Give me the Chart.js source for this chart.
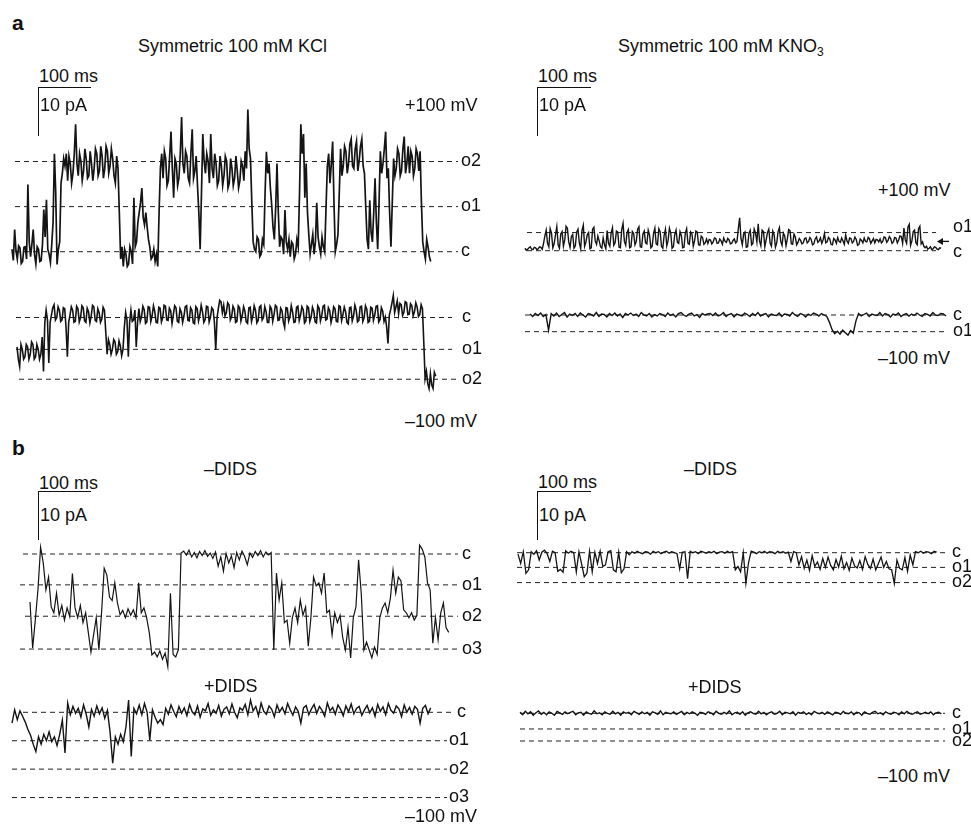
<!DOCTYPE html>
<html><head><meta charset="utf-8">
<script src="https://cdn.jsdelivr.net/npm/chart.js@4"></script>
<style>
body{margin:0;background:#fff;}
#fig{position:relative;width:971px;height:829px;overflow:hidden;background:#fff;font-family:"Liberation Sans",Arial,sans-serif;color:#111;}
.t{position:absolute;font-size:18px;line-height:18px;white-space:nowrap;z-index:2;}
.t sub{font-size:12px;vertical-align:-4px;line-height:0;}
.p{position:absolute;font-size:21px;line-height:21px;font-weight:bold;z-index:2;}
.hb{position:absolute;height:0;border-top:1.5px solid #111;}
.vb{position:absolute;width:0;border-left:1.5px solid #111;}
canvas{position:absolute;}
</style></head>
<body><div id="fig">
<div class="p" style="left:12px;top:12px">a</div>
<div class="t" style="left:138px;top:37px">Symmetric 100 mM KCl</div>
<div class="t" style="left:618px;top:37px">Symmetric 100 mM KNO<sub>3</sub></div>
<div class="t" style="left:39px;top:67px">100 ms</div>
<div class="t" style="left:40px;top:96px">10 pA</div>
<div class="hb" style="left:38px;top:87px;width:53px"></div>
<div class="vb" style="left:38px;top:87px;height:49px"></div>
<div class="t" style="left:538px;top:67px">100 ms</div>
<div class="t" style="left:539px;top:96px">10 pA</div>
<div class="hb" style="left:537px;top:87px;width:54px"></div>
<div class="vb" style="left:537px;top:87px;height:49px"></div>
<div class="t" style="left:405px;top:96px">+100 mV</div>
<div class="t" style="left:878px;top:181px">+100 mV</div>
<div class="t" style="left:405px;top:412px">–100 mV</div>
<div class="t" style="left:878px;top:349px">–100 mV</div>
<div class="p" style="left:12px;top:437px">b</div>
<div class="t" style="left:204px;top:460px">–DIDS</div>
<div class="t" style="left:684px;top:460px">–DIDS</div>
<div class="t" style="left:39px;top:474px">100 ms</div>
<div class="t" style="left:40px;top:506px">10 pA</div>
<div class="hb" style="left:38px;top:491px;width:53px"></div>
<div class="vb" style="left:38px;top:491px;height:49px"></div>
<div class="t" style="left:538px;top:473px">100 ms</div>
<div class="t" style="left:539px;top:506px">10 pA</div>
<div class="hb" style="left:537px;top:491px;width:54px"></div>
<div class="vb" style="left:537px;top:491px;height:49px"></div>
<div class="t" style="left:204px;top:677px">+DIDS</div>
<div class="t" style="left:688px;top:678px">+DIDS</div>
<div class="t" style="left:405px;top:807px">–100 mV</div>
<div class="t" style="left:878px;top:767px">–100 mV</div>
</div>
<script>
// ---- data: currents in pA, sampled at a fixed interval (ms) per trace ----
const dtKclPos = 2.5, dtKclNeg = 2.5, dtKno3Pos = 2.5, dtOther = 5;
const kclPos = [0.5,-1.8,4.5,0.2,-1.5,1.2,0.8,-2.4,-2,0.9,1,-1.5,13.7,2,-1,1.5,4.5,-0.5,-2.5,1,
0.5,-2,-1.8,1.5,8.6,3,10.6,0.5,-0.5,-2.2,1.5,6,20,12,-2.6,0.5,2,14,16,19,
17.5,20,14.5,19.5,18,14,16,20,26,18,15.5,20,18.5,14.5,16.5,21,19,15,15.5,20.5,
18,14.5,17,21,20,15.5,16.5,21.5,19.5,15,17,21.5,20.5,16,17.5,21,19,15.5,14,19.5,
17,8,-1.5,1,-3,0.5,-0.5,-3,-2.5,1,0,-2.5,11,1,2,6,8,10,13,7,
5.5,8,5,2.5,1,-1.5,-1,0.5,-2,-0.5,-3,8,17,20,15,20.5,19,13.5,14.5,19.5,
24.5,17,11,19,18,13.5,15,20,27.5,18,16,20.5,19.5,15,14,20,25,15,16.5,19.5,
13.5,8,0.5,12,24,18.5,16,20,18.5,14,24,17,15,20,18,13.5,14.5,19.5,17.5,13.5,
15.5,19.5,18.5,13,14,19,17,13.5,15,19.5,16.5,13,14.5,18.5,17.5,14.5,20.5,17,29,21,
19,10,2,0.5,0,3,2.5,-1,-0.5,2.5,1.5,12,20.4,16,18,13,9.5,5,2.5,9,
18,8,1,3,2.5,-0.5,8.5,2,0.5,2.5,-1,2,1.5,-1.5,-0.5,2.5,1,12,26,20,
24,11,18,8,3.5,-0.5,1.5,3.5,-0.5,2,10,3,1,-0.5,3,1,0,9,17.5,20,
14,18,22.5,10,0,1.5,3.5,12,21,15.5,17.5,21.5,20.5,16,18,22,23,17.5,17,21,
22.5,16.5,18.5,21.5,23,17.5,16,9,2.5,0.5,10.5,4,2,8,15,6,0.5,10,20.5,16,
18,21,24.5,15,17,8,1,10,19,15.5,17,21,20,15.5,16.5,21,23.5,16,18,21.5,
16,20.5,19.5,15.5,17,21,20,16.5,20.5,10,2,0,-1.5,2.5,1,-1,-2];
const kclNeg = [-6,-8.5,-10,-5.5,-6.5,-8.5,-8,-5.5,-6,-8.5,-7.5,-5,-5.5,-8.5,-8,-5.5,-6.5,-8.5,-7.5,-4,
-11,-1,1.5,-0.5,-9.3,-1,0.5,2,2.6,-0.5,0,2.2,1.5,-0.8,-0.5,2,1.8,-2,-8,-1,
0.5,2.2,1.5,-1,-0.8,2.3,1.8,-0.9,0,2.4,2,-0.7,-1,1.9,1.2,-1.1,0.3,2.5,2.2,-0.6,
-0.8,1.8,1,-1,-0.3,2.1,1.5,-3,-7.5,-4.5,-5.5,-7.5,-6.5,-4.5,-5,-7.5,-7,-4.8,-5.8,-7.8,
-6.5,-2,1,-0.5,-8,-1,1.5,-0.8,-0.5,1.5,-6,-1,1.8,-0.8,0.2,2.3,1.6,-1.2,-0.9,2.2,
2.1,-0.8,0.4,2.4,1.2,-1,-1.1,2.1,1.9,-0.9,0,2.5,2.3,-0.5,-0.6,1.9,1.4,-1.2,0.6,2.4,
2,-0.8,-1,1.8,1.1,-1,0.3,2.2,2.4,-0.6,-0.7,2,1.5,-1.1,-1.3,2.2,1.8,-0.7,0.5,2.5,
1.2,-1,-0.4,2.3,2.2,-0.9,0.1,2,1.6,-1,-6.6,0,1.9,3.5,3.2,1,2.5,0.3,1,3,
2.6,-0.5,0.2,2.3,1.7,-1,-0.8,2.4,2,-0.7,0.4,2.2,1.3,-0.9,-1.2,2,2.1,-0.8,0.3,2.4,
1.5,-1.1,-0.6,2.1,2.4,-0.5,0,2.2,1.2,-1,-1,2.3,1.8,-0.8,0.6,2.5,2.2,-0.6,-0.5,1.9,
1.4,-0.9,-2,2,1.9,-0.7,0.2,2.4,1.1,-1,-0.9,2.1,2.3,-0.6,0.5,2.2,1.6,-1.1,-0.7,2.3,
2,-0.8,0.1,2.1,1.3,-0.9,-1.1,2.4,1.9,-0.7,0.4,2.3,2.5,-0.5,-0.3,2,1.4,-1,0.2,2.2,
1.8,-0.8,-0.9,2.4,2.2,-0.6,0.6,2.1,1.2,-1,-1.3,2,2.1,-0.7,0.3,2.5,1.5,-0.9,-0.6,2.2,
2.3,-0.8,0,2.4,1.7,-1,-0.8,2.1,1.9,-0.6,0.5,2.3,2.4,-0.9,-0.4,2,1.3,-0.8,0.1,-2,
-5.3,0.5,1.6,3,4.5,1,2.2,3.4,0.8,2.9,2.6,0.4,1.1,3.2,3,0.6,0.7,2.8,2.4,0.3,
1.2,3,2.1,0.2,0.6,2.6,1.8,-5,-12.5,-11,-13.5,-14.5,-11.5,-13.8,-14.5,-11.2,-12];
const kno3Pos = [0.5,0.1,0.3,0.6,0.8,0.3,0.2,0.7,0.6,0.2,0.4,0.8,0.7,0.3,1.5,3.0,
4.2,1.5,0.8,4.5,3.6,0.6,1.4,3.2,4.9,1.2,0.5,3.4,3.9,0.9,2.2,5.0,4.6,1.8,0.7,2.9,
3.3,0.5,1.0,3.8,4.4,1.6,0.4,4.1,5.2,0.9,1.8,3.3,3.7,0.4,0.6,4.4,4.8,2.0,1.3,3.0,
2.0,0.8,0.5,2.6,1.2,0.4,4.1,1.5,0.9,3.6,4.7,1.1,1.6,4.0,3.8,0.7,0.6,4.3,5.6,1.9,
1.1,3.7,4.3,0.6,0.8,3.9,3.5,1.2,1.9,4.4,4.9,0.8,0.7,3.4,4.0,1.6,1.4,4.2,3.2,0.6,
0.9,3.5,4.6,1.4,1.2,4.5,3.9,0.9,0.5,3.1,4.4,1.0,2.1,4.6,3.6,0.5,0.8,3.3,4.2,1.7,
1.5,3.9,3.1,0.6,0.7,3.6,4.5,1.5,1.3,3.8,3.4,0.9,2.0,4.0,3.8,1.2,1.1,3.0,2.7,1.3,1.6,2.4,
1.5,2.3,2.2,1.4,1.8,2.6,2.5,1.5,1.6,2.4,2.0,1.3,2.6,1.9,1.7,2.5,2.2,1.4,1.5,2.1,2.4,1.6,1.9,4.5,
6.7,2.5,
1.2,3.4,3.8,0.7,0.8,3.6,4.2,1.2,1.5,4.4,3.6,1.8,5.5,2.0,1.0,4.2,3.9,0.8,2.2,3.7,4.4,1.5,
0.9,4.0,3.3,0.7,1.6,3.9,4.7,1.9,1.1,3.6,3.0,1.0,2.4,4.3,4.1,1.4,1.3,3.4,2.8,1.2,1.7,2.5,
2.1,1.4,1.6,2.5,2.6,1.6,1.9,2.7,2.3,1.2,1.4,2.4,2.8,1.7,2.0,2.6,1.5,2.2,3.5,1.6,
1.8,2.7,2.4,1.3,1.2,2.5,2.2,1.5,2.7,1.9,1.7,2.6,2.0,1.3,3.2,2.0,1.5,2.6,2.5,1.6,
1.9,2.8,2.3,1.1,1.3,2.4,2.1,1.6,2.6,1.9,1.8,2.7,2.4,1.5,2.0,2.5,1.6,2.3,2.2,1.8,
2.4,1.6,1.9,2.8,2.7,1.7,2.1,2.9,2.5,1.5,1.8,2.7,2.6,1.6,2.2,3.0,2.9,1.5,
4.6,2.2,1.5,4.8,5.4,1.1,2.0,3.9,4.2,1.6,1.2,4.5,5.0,1.4,1.8,0.9,
0.6,0.9,0.3,0.5,0.8,0.2,0.4,0.8,0.7,0.3,0.2,0.6,0.5];
const kno3Neg = [0.2,-0.3,0.3,-0.1,0.4,-0.3,0.1,
-3.1,
0.3,-0.2,0.4,-0.3,0.1,0.5,-0.4,0.2,-0.1,0.3,
-0.3,0.4,0,-0.4,0.3,0.1,-0.2,0.5,-0.3,0.2,
0.1,-0.4,0.3,-0.1,0.4,-0.2,0.2,-0.5,0.3,0,
0.4,-0.1,0.2,-0.3,0.5,0,-0.2,0.3,-0.4,0.1,
-0.2,0.3,0.1,-0.3,0.4,-0.1,0.2,-0.4,0.3,0.5,
0,-0.3,0.2,0.4,-0.2,0.1,-0.5,0.3,0,0.2,
0.3,-0.1,0.4,-0.2,0,0.5,-0.3,0.1,0.3,-0.4,
0.2,0,-0.2,0.4,0.1,-0.3,0.3,-0.1,0.5,-0.2,
0.1,0.3,-0.4,0.2,0,-0.1,0.4,-0.3,0.2,0.1,
-0.2,0.5,0,-0.3,0.3,0.1,-0.4,0.2,-0.1,0.4,
0.2,-0.2,0.3,0,-0.3,
-1.5,-3.0,-3.8,-3.3,-3.9,-3.1,-3.6,-4.1,-3.2,-3.7,-1.2,
0.3,-0.2,0.1,0.4,-0.3,0.2,0,-0.1,0.5,-0.2,
0.3,0.1,-0.4,0.2,0,0.4,-0.3,0.1,0.3,-0.2,
0.2,-0.1,0.4,0,-0.3,0.3,0.1,-0.2,0.5,0,
-0.1,0.3,0.2,-0.2];
const didsMinusKcl = [-9.8,-19.2,-13.5,-7.3,1.4,-1.8,-7.3,-4.7,-10.8,-12,
-8,-12.5,-10.5,-13.5,-11,-12.8,-4,-11,-13,-10.5,
-14,-12,-16,-20,-16.5,-13,-19.6,-12,-2.9,-4.3,
-8.8,-9.5,-5.9,-10,-12.4,-11.5,-13,-11.2,-12.5,-11.4,
-13,-5.9,-12,-11,-13,-16,-20.6,-20,-21,-19.8,
-21.5,-20.2,-23,-8,-20.5,-21,-19.5,0.2,
0.6,-0.2,0.8,-0.6,0.3,-0.8,0.5,-0.3,0.7,-0.5,
0.2,-0.9,0.4,-2.5,-0.6,-3.5,0.1,-1.8,-0.4,-2.8,
0.3,-1.2,0.6,-0.5,-2.2,0.2,-0.7,0.5,-0.3,0.7,
-0.6,0.4,-0.2,0.3,
-19.6,-3.9,-9.4,-5.9,-14,-13.5,-18.2,-13,-11,-14,
-9.4,-12.5,-10.8,-18.8,-13,-4.7,-6.5,-5.9,-8,-3.9,
-12,-11.5,-16.5,-12,-14,-12.5,-17,-19.6,-15,-21.2,
-13,-10.8,-1.2,-8,-19.6,-18,-19.6,-21.2,-19,-20.5,
-13,-11,-10,-12,-9,-3.3,-8,-4.7,-5.5,-11.4,
-12,-13,-12,-13.5,-12.5,1.8,1,-0.6,-5.9,-7.3,
-18.2,-13,-17.5,-12,-10,-15,-16];
const didsPlusKcl = [-2.2,0.5,-1.5,0.3,-0.8,-2,-3.5,-4.7,-6.5,-8,
-5,-6.5,-4.5,-5.8,-4,-6,-5,-6.8,-4.5,-1.6,
-8.3,1.9,
-0.5,1.2,-0.2,0.8,-1,1.5,-0.4,-3,0.6,-0.8,1.3,-0.3,0.9,-1.2,0.4,
-4,-10.4,-5,-6.5,-4.5,-6,-3,2.5,-9,0.8,-0.3,1.5,-0.5,1.8,0,-5.7,0.5,-1,-2.2,-1.5,-2.5,
0.8,-0.4,1.5,0.2,-0.9,1.2,-0.2,0.9,-0.7,1.6,
0.1,-0.5,1.3,-1,0.7,0.3,1.8,-0.6,0.5,-0.2,
1.4,-0.8,0.6,1.1,-0.3,1.7,0,-1.1,0.9,0.4,
1.6,-0.5,2.5,0.3,1.2,-0.7,1.9,0.2,-0.4,1.3,
0.6,-0.9,1.5,0.1,1,-0.3,1.8,0.5,-0.6,1.1,
0.2,-2.2,0.9,1.4,-0.5,0.7,1.6,-0.2,1.2,0.4,
-0.8,1.9,0.3,1,-0.4,1.5,0.6,-0.7,1.3,0.1,
1.7,-0.3,0.8,1.2,-0.6,0.5,1.4,-0.1,0.9,-0.8,
1.6,0.2,1.1,-0.5,1.8,0.4,-0.2,1.3,0.7,-0.9,
1.5,0,1,-0.4,1.2,0.6,-2.2,0.8,1.4,-0.3,
0.9];
const didsMinusKno3 = [-0.3,-2.2,0.2,-4.2,-3.5,
0.2,-0.3,0.4,-1.5,0.1,0.5,-0.2,-1.8,0.3,0,
-3.8,-3.4,-4,
0.4,-0.1,0.3,0,
-3.9,0.2,-2.3,-4.9,-4.2,0.3,-3.9,0.1,-2.2,
0.3,-2.8,-2.5,0.2,0.4,-3.5,-3.9,0.1,-4.1,-3.3,0.2,-0.4,
0.2,-0.1,0.3,0,-0.2,0.2,0.1,-0.3,0.3,0,0.2,-0.2,0.1,0.3,-0.1,0.2,0,-0.2,
-3.3,0.1,0.2,-5.3,0.3,
0,0.2,-0.2,0.3,0.1,-0.1,0.2,0,0.3,-0.2,0.1,0.2,-0.1,0.3,0,0.2,
-3.5,-2.8,-3.9,0,-6.2,-2,
0.3,0.1,-0.2,0.2,0,0.3,-0.1,0.2,0.1,-0.2,0.3,0,0.2,-0.1,0.1,-1.8,0.2,0,
-2.5,-0.8,-3.2,-1.5,-3.6,-0.6,-2.8,-1.9,-3.4,-1.2,-3,-0.9,-2.6,-3.5,-1.4,-2.9,-0.7,-3.3,-2,-3.6,
-1.1,-2.7,-3.1,-1.6,-3.4,-0.8,-2.4,-3.2,-1.3,-3.5,-2.2,-0.9,-3,-1.8,-3.3,
-3.5,-6.3,-1.5,-3.2,
-3.5,-1,-3.8,-0.5,-2.5,
0.2,0,0.3,-0.1,0.2,0.1,-0.2,0.3,0.1];
const didsPlusKno3 = [0.2,-0.3,0.4,-0.1,0.3,-0.4,0.1,0.5,-0.2,0.2,
-0.3,0.3,0,-0.4,0.4,0.1,-0.2,0.3,-0.1,0.2,
0.4,-0.3,0.1,0.2,-0.4,0.3,0,-0.2,0.5,-0.1,
0.1,-0.3,0.3,0,-0.2,0.4,-0.1,0.2,-0.4,0.3,
0,0.2,-0.3,0.4,0.1,-0.2,0.3,-0.1,0.2,-0.4,
0.3,0.1,-0.2,0.5,-0.3,0.2,0,-0.1,0.3,-0.2,
0.1,0.4,-0.3,0.2,-0.1,0.3,0,-0.4,0.2,0.1,
-0.2,0.3,0.1,-0.3,0.4,0,-0.2,0.2,-0.1,0.5,
-0.3,0.1,0.2,-0.2,0.3,-0.4,0.1,0.3,0,-0.2,
0.4,-0.1,0.2,-0.3,0.1,0.3,-0.2,0,0.4,-0.3,
0.2,0.1,-0.1,0.3,-0.4,0.2,0,0.3,-0.2,0.1,
-0.3,0.4,0.1,-0.1,0.2,-0.2,0.3,0,-0.3,0.2,
0.1,-0.2,0.4,0,-0.1,0.3,-0.3,0.2,0.1,-0.4,
0.3,0,-0.2,0.2,0.4,-0.1,0.1,-0.3,0.3,0,
-0.2,0.2,0.1,-0.3,0.3,-0.1,0.4,0,-0.2,0.1,
0.3,-0.2,0,0.2,-0.1,0.3,-0.3,0.1,0.2,-0.1];

// current levels (pA) and their names
const lvKclPos = [0, 9.2, 18.4], nmKclPos = ['c','o1','o2'];
const lvKclNeg = [0, -6.5, -12.6], nmKclNeg = ['c','o1','o2'];
const lvKno3Pos = [0, 3.7], nmKno3Pos = ['c','o1'];
const lvKno3Neg = [0, -3.4], nmKno3Neg = ['c','o1'];
const lvDidsMinusKcl = [0, -6.3, -12.7, -19.4], nmDidsMinusKcl = ['c','o1','o2','o3'];
const lvDidsPlusKcl = [0, -5.8, -11.6, -17.4], nmDidsPlusKcl = ['c','o1','o2','o3'];
const lvDidsMinusKno3 = [0, -3.0, -6.1], nmDidsMinusKno3 = ['c','o1','o2'];
const lvDidsPlusKno3 = [0, -3.2, -5.65], nmDidsPlusKno3 = ['c','o1','o2'];

// ---- layout ----
const PX_PER_MS = 0.53, PX_PER_PA = 4.9;
const fig = document.getElementById('fig');
const FONT = '18px "Liberation Sans", Arial, sans-serif';

const levelLabels = {
  id: 'levelLabels',
  afterDatasetsDraw(chart, args, o) {
    const ctx = chart.ctx, ys = chart.scales.y;
    ctx.save();
    ctx.font = FONT; ctx.fillStyle = '#111'; ctx.textBaseline = 'alphabetic';
    o.levels.forEach((lv, k) => {
      const y = ys.getPixelForValue(lv) + 4.7 + (o.dy ? o.dy[k] : 0);
      ctx.fillText(o.names[k], o.xs[k] - o.left, y);
    });
    if (o.arrow) {
      const y = ys.getPixelForValue(o.arrow.level);
      const x1 = o.arrow.from - o.left, x2 = o.arrow.to - o.left;
      ctx.strokeStyle = '#111'; ctx.lineWidth = 1.3;
      ctx.beginPath(); ctx.moveTo(x1, y); ctx.lineTo(x2 + 3, y); ctx.stroke();
      ctx.beginPath(); ctx.moveTo(x2, y); ctx.lineTo(x2 + 6, y - 3.5); ctx.lineTo(x2 + 6, y + 3.5); ctx.closePath(); ctx.fill();
    }
    ctx.restore();
  }
};

function makeTrace(values, dt, levels, names, L) {
  const cv = document.createElement('canvas');
  cv.width = L.width; cv.height = L.height;
  cv.style.left = L.left + 'px'; cv.style.top = L.top + 'px';
  cv.style.width = L.width + 'px'; cv.style.height = L.height + 'px';
  fig.appendChild(cv);
  const toMs = px => (px - L.x0) / PX_PER_MS;
  const xmin = toMs(L.left), xmax = toMs(L.left + L.width);
  const ymax = (L.yc - L.top) / PX_PER_PA, ymin = -(L.top + L.height - L.yc) / PX_PER_PA;
  const arr = (v, k) => Array.isArray(v) ? v[k] : v;
  const trace = { data: values.map((v, i) => ({ x: i * dt, y: v })), borderColor: '#141414', borderWidth: L.lw, pointRadius: 0, tension: 0, fill: false };
  const dashed = levels.map((lv, k) => ({
    data: [{ x: toMs(arr(L.dashFrom, k)), y: lv }, { x: toMs(arr(L.dashTo, k)), y: lv }],
    borderColor: '#222', borderWidth: 1, borderDash: [5, 4], pointRadius: 0, fill: false
  }));
  new Chart(cv, {
    type: 'line',
    data: { datasets: [trace, ...dashed] },
    options: {
      responsive: false, maintainAspectRatio: false, animation: false, devicePixelRatio: 1, events: [],
      layout: { padding: 0 },
      plugins: { legend: { display: false }, tooltip: { enabled: false },
        levelLabels: { levels, names, xs: levels.map((_, k) => arr(L.labelX, k)), dy: L.dy, left: L.left, arrow: L.arrow } },
      scales: {
        x: { type: 'linear', display: false, min: xmin, max: xmax },
        y: { type: 'linear', display: false, min: ymin, max: ymax }
      }
    },
    plugins: [levelLabels]
  });
}

makeTrace(kclPos, dtKclPos, lvKclPos, nmKclPos, { left: 0, top: 100, width: 485, height: 180, x0: 12, yc: 251.7, lw: 1.7, dashFrom: 15, dashTo: 458, labelX: 461 });
makeTrace(kclNeg, dtKclNeg, lvKclNeg, nmKclNeg, { left: 0, top: 285, width: 485, height: 115, x0: 17, yc: 317.5, lw: 1.6, dashFrom: [16, 16, 19], dashTo: [452, 452, 458], labelX: 462 });
makeTrace(kno3Pos, dtKno3Pos, lvKno3Pos, nmKno3Pos, { left: 485, top: 205, width: 486, height: 60, x0: 525, yc: 250.7, lw: 1.4, dashFrom: 527, dashTo: 936, labelX: 953, dy: [2, -5], arrow: { level: 1.9, from: 949, to: 937 } });
makeTrace(kno3Neg, dtOther, lvKno3Neg, nmKno3Neg, { left: 485, top: 295, width: 486, height: 50, x0: 530, yc: 315, lw: 1.4, dashFrom: 525, dashTo: [948, 946], labelX: 953 });
makeTrace(didsMinusKcl, dtOther, lvDidsMinusKcl, nmDidsMinusKcl, { left: 0, top: 535, width: 485, height: 140, x0: 30, yc: 554, lw: 1.2, dashFrom: [23, 20, 25, 20], dashTo: 458, labelX: 462 });
makeTrace(didsPlusKcl, dtOther, lvDidsPlusKcl, nmDidsPlusKcl, { left: 0, top: 690, width: 485, height: 120, x0: 12, yc: 712.3, lw: 1.4, dashFrom: [23, 12, 12, 12], dashTo: [453, 447, 447, 447], labelX: [457, 449, 449, 449] });
makeTrace(didsMinusKno3, dtOther, lvDidsMinusKno3, nmDidsMinusKno3, { left: 485, top: 535, width: 486, height: 60, x0: 518, yc: 552.7, lw: 1.3, dashFrom: 517, dashTo: 947, labelX: 952 });
makeTrace(didsPlusKno3, dtOther, lvDidsPlusKno3, nmDidsPlusKno3, { left: 485, top: 695, width: 486, height: 60, x0: 520, yc: 713.3, lw: 1.4, dashFrom: 520, dashTo: 945, labelX: 952 });
</script>
</body></html>
